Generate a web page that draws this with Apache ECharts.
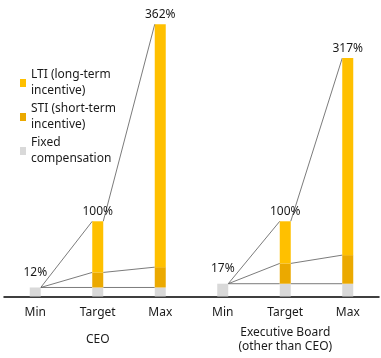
<!DOCTYPE html>
<html>
<head>
<meta charset="utf-8">
<script src="https://cdn.jsdelivr.net/npm/echarts@6/dist/echarts.min.js"></script>
<style>html,body{margin:0;padding:0;background:#fff}#c{width:381px;height:358px}</style>
</head>
<body>
<div id="c"></div>
<script>
var categories = ['Min', 'Target', 'Max', 'Min', 'Target', 'Max'];
var groups = ['CEO', 'Executive Board\n(other than CEO)'];
var fixedValues = [12, 12, 12, 17, 17, 17];
var stiValues = [0, 20, 27, 0, 27, 38];
var ltiValues = [0, 68, 323, 0, 56, 262];
var totalLabels = ['12%', '100%', '362%', '17%', '100%', '317%'];
var seriesNames = ['LTI (long-term incentive)', 'STI (short-term incentive)', 'Fixed compensation'];
var legendText = {
  'LTI (long-term incentive)': 'LTI (long-term\nincentive)',
  'STI (short-term incentive)': 'STI (short-term\nincentive)',
  'Fixed compensation': 'Fixed\ncompensation'
};

var FONT = 'Noto Sans';
var BAR_W = 11;
var groupSize = 3;

var levels = categories.map(function (c, i) {
  var f = fixedValues[i], s = f + stiValues[i], t = s + ltiValues[i];
  return [f, s, t];
});
var connectorData = [];
for (var i = 0; i < categories.length; i++) {
  if (i % groupSize !== 0) {
    connectorData.push([i].concat(levels[i - 1], levels[i]));
  }
}

var chart = echarts.init(document.getElementById('c'), null, {renderer: 'canvas'});
chart.setOption({
  animation: false,
  textStyle: {fontFamily: FONT},
  grid: {left: 4, right: 2, top: 10.7, bottom: 61.5},
  legend: {
    data: seriesNames,
    orient: 'vertical',
    left: 20,
    top: 59,
    padding: 0,
    itemWidth: 6,
    itemHeight: 8,
    itemGap: -14,
    icon: 'rect',
    formatter: function (n) { return legendText[n]; },
    textStyle: {fontFamily: FONT, fontSize: 12, color: '#1a1a1a', lineHeight: 16, padding: [16, 0, 0, 0]}
  },
  xAxis: [{
    type: 'category',
    data: categories.map(function (c, i) { return i + '|' + c; }),
    axisLine: {lineStyle: {color: '#000', width: 1.5}},
    axisTick: {show: false},
    axisLabel: {formatter: function (v) { return v.split('|')[1]; }, color: '#1a1a1a', fontSize: 12, margin: 10, fontFamily: FONT}
  }, {
    type: 'category',
    position: 'bottom',
    data: groups,
    axisLine: {show: false},
    axisTick: {show: false},
    axisLabel: {color: '#1a1a1a', fontSize: 12, lineHeight: 14, verticalAlign: 'middle', margin: 43.5, fontFamily: FONT}
  }],
  yAxis: {type: 'value', min: 0, max: 380, show: false, splitLine: {show: false}},
  series: [{
    name: 'Fixed compensation', type: 'bar', stack: 'a', barWidth: BAR_W,
    itemStyle: {color: '#D9D9D9'}, data: fixedValues, z: 3
  }, {
    name: 'STI (short-term incentive)', type: 'bar', stack: 'a', barWidth: BAR_W,
    itemStyle: {color: '#EBA900'}, data: stiValues, z: 3
  }, {
    name: 'LTI (long-term incentive)', type: 'bar', stack: 'a', barWidth: BAR_W,
    itemStyle: {color: '#FFC000'}, z: 3,
    data: ltiValues.map(function (v, i) {
      return {value: v, label: {distance: i % groupSize === 0 ? 9 : 4}};
    }),
    label: {
      show: true, position: 'top', color: '#1a1a1a', fontSize: 12, fontFamily: FONT,
      formatter: function (p) { return totalLabels[p.dataIndex]; }
    }
  }, {
    type: 'custom', z: 2, silent: true,
    encode: {x: 0, y: [1, 2, 3, 4, 5, 6]},
    data: connectorData,
    renderItem: function (params, api) {
      var idx = api.value(0);
      var children = [];
      for (var k = 0; k < 3; k++) {
        var p0 = api.coord([idx - 1, api.value(1 + k)]);
        var p1 = api.coord([idx, api.value(4 + k)]);
        children.push({
          type: 'line',
          shape: {x1: p0[0] + BAR_W / 2, y1: p0[1], x2: p1[0] - BAR_W / 2, y2: p1[1]},
          style: {stroke: '#595959', lineWidth: 0.8}
        });
      }
      return {type: 'group', children: children};
    }
  }]
});
</script>
</body>
</html>
